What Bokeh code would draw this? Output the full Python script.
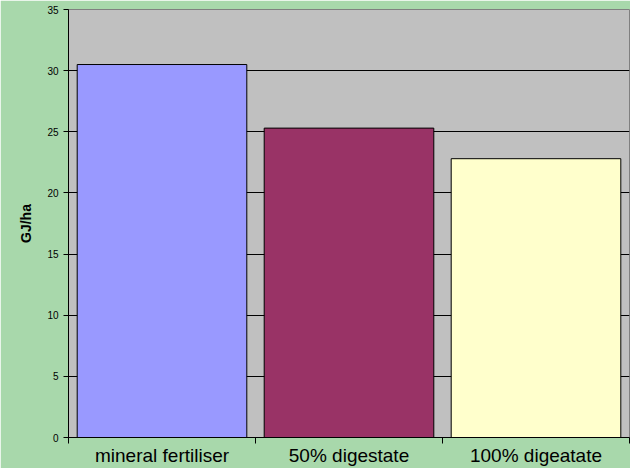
from bokeh.plotting import figure
from bokeh.models import ColumnDataSource, Range1d, FixedTicker
from bokeh.embed import file_html
from bokeh.resources import INLINE

# Data
categories = ["mineral fertiliser", "50% digestate", "100% digeatate"]
values = [30.5, 25.3, 22.8]
bar_colors = ["#9999ff", "#993366", "#ffffcc"]
y_ticks = [0, 5, 10, 15, 20, 25, 30, 35]
y_label = "GJ/ha"

positions = [i + 0.5 for i in range(len(categories))]
boundaries = [i for i in range(len(categories) + 1)]

src = ColumnDataSource(dict(x=positions, top=values, color=bar_colors, cat=categories))

p = figure(width=630, height=468, output_backend="svg", toolbar_location=None,
           x_range=Range1d(0, len(categories)), y_range=Range1d(0, 35),
           min_border_left=68, min_border_top=9, min_border_right=1, min_border_bottom=31)

bg = "#a8d8ab"
p.background_fill_color = "#c0c0c0"
p.border_fill_color = bg
p.outline_line_color = "#808080"
p.outline_line_width = 1

p.vbar(x="x", top="top", width=0.907, bottom=0, fill_color="color",
       line_color="black", line_width=1, source=src)

# x axis
xa = p.xaxis[0]
xa.ticker = FixedTicker(ticks=positions, minor_ticks=boundaries)
xa.major_label_overrides = {pos: c for pos, c in zip(positions, categories)}
xa.major_tick_out = 0
xa.major_tick_in = 0
xa.minor_tick_out = 6
xa.minor_tick_in = 0
xa.minor_tick_line_color = "black"
xa.axis_line_color = "black"
xa.major_label_text_font = "Liberation Sans"
xa.major_label_text_font_size = "19px"
xa.major_label_text_color = "black"
xa.major_label_standoff = 1

# y axis
ya = p.yaxis[0]
ya.ticker = FixedTicker(ticks=y_ticks, minor_ticks=[])
ya.major_tick_out = 5
ya.major_tick_in = 0
ya.major_tick_line_color = "black"
ya.axis_line_color = "black"
ya.major_label_text_font = "Liberation Sans"
ya.major_label_text_font_size = "10px"
ya.major_label_text_color = "black"
ya.major_label_standoff = 5
ya.axis_label = y_label
ya.axis_label_text_font = "Liberation Sans"
ya.axis_label_text_font_size = "14px"
ya.axis_label_text_font_style = "bold"
ya.axis_label_text_color = "black"
ya.axis_label_standoff = 10

p.xgrid.visible = False
p.ygrid.grid_line_color = "black"
p.ygrid.grid_line_width = 1
p.ygrid.ticker = FixedTicker(ticks=y_ticks)

open("out.html", "w").write(file_html(p, INLINE))
